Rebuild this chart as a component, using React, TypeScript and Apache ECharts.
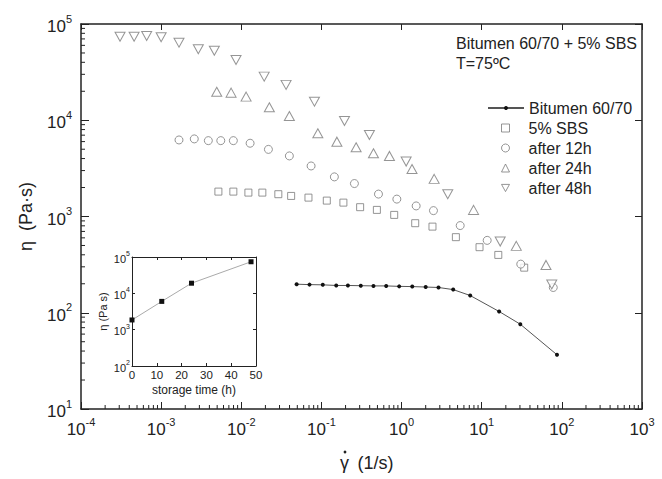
import React, { useEffect, useRef } from "react";
import * as echarts from "echarts";

// Shear rate (1/s) and viscosity (Pa·s) readings for each sample
const bitumenRate = [0.049, 0.071, 0.104, 0.153, 0.214, 0.31, 0.446, 0.643, 0.933, 1.36, 2.0, 2.89, 4.41, 7.18, 16.5, 30.3, 86.9];
const bitumenEta = [198, 196, 195, 192, 192, 191, 190, 190, 188, 187, 185, 183, 174, 151, 103, 76, 36.6];

const sbsRate = [5.18e-3, 7.96e-3, 0.01227, 0.01832, 0.029, 0.0419, 0.0689, 0.1167, 0.188, 0.304, 0.492, 0.809, 1.48, 2.43, 4.76, 9.39, 16.1, 33.9];
const sbsEta = [1814, 1814, 1771, 1771, 1705, 1636, 1571, 1463, 1394, 1250, 1171, 1039, 852, 785, 610, 480, 399, 294];

const h12Rate = [1.67e-3, 2.59e-3, 3.88e-3, 5.55e-3, 7.96e-3, 0.01288, 0.0218, 0.0398, 0.0743, 0.145, 0.258, 0.515, 0.873, 1.52, 2.5, 5.39, 11.7, 30.7, 78.1];
const h12Eta = [6240, 6400, 6140, 6140, 6140, 5770, 4980, 4260, 3350, 2580, 2200, 1709, 1516, 1288, 1151, 805, 565, 320, 183];

const h24Rate = [4.94e-3, 7.46e-3, 0.01148, 0.0224, 0.0398, 0.0902, 0.156, 0.271, 0.446, 0.706, 1.35, 2.55, 7.91, 27.0, 63.4];
const h24Eta = [19800, 19350, 17600, 13650, 11080, 7330, 5990, 5240, 4540, 4260, 3120, 2460, 1171, 495, 314];

const h48Rate = [3.07e-4, 4.6e-4, 6.6e-4, 1.0e-3, 1.67e-3, 2.91e-3, 4.61e-3, 8.6e-3, 0.0193, 0.0362, 0.0818, 0.194, 0.397, 1.14, 3.77, 17.0, 74.8];
const h48Eta = [73800, 73800, 75000, 72800, 64000, 54600, 52800, 42300, 28400, 23300, 15600, 9840, 7030, 3720, 1705, 549, 197];

// Inset: zero-shear plateau viscosity against storage time
const storageHours = [0, 12, 24, 48];
const storageEta = [1850, 6000, 19000, 74000];

const seriesNames = ["Bitumen 60/70", "5% SBS", "after 12h", "after 24h", "after 48h"];

const FONT = '"Liberation Sans", Arial, Helvetica, sans-serif';
const INK = "#222";
const GRAY = "#7a7a7a";
const DOWN_TRIANGLE = "path://M0,0 L10,0 L5,9 Z";

const zip = (xs: number[], ys: number[]) => xs.map((x, i) => [x, ys[i]]);

const powLabel = (v: number) => {
  const e = Math.round(Math.log10(v));
  return `{b|10}{s|${e}}`;
};

const mainRich = {
  b: { fontSize: 17, fontFamily: FONT, color: INK, lineHeight: 22, verticalAlign: "bottom" },
  s: { fontSize: 11, fontFamily: FONT, color: INK, lineHeight: 22, verticalAlign: "top" },
};
const insetRich = {
  b: { fontSize: 11, fontFamily: FONT, color: INK, lineHeight: 14, verticalAlign: "bottom" },
  s: { fontSize: 7, fontFamily: FONT, color: INK, lineHeight: 14, verticalAlign: "top" },
};

const frameLine = (w: number) => ({ show: true, onZero: false, lineStyle: { color: INK, width: w } });
const legendText = { fontSize: 16, color: INK, fontFamily: FONT, lineHeight: 16 };

export default function App() {
  const ref = useRef<HTMLDivElement>(null);

  useEffect(() => {
    document.body.style.margin = "0";
    const chart = echarts.init(ref.current!, undefined, { renderer: "svg" });

    const hollow = { color: "#fff", borderColor: GRAY, borderWidth: 1 };

    chart.setOption({
      animation: false,
      backgroundColor: "#fff",
      textStyle: { fontFamily: FONT },
      grid: [
        { left: 81, top: 24, right: 20, bottom: 70 },
        { left: 132, top: 257, width: 124, height: 109, show: true, backgroundColor: "#fff", borderWidth: 0 },
      ],
      legend: [
        {
          orient: "vertical", left: 482, top: 95,
          itemWidth: 36, itemHeight: 5, itemGap: 4, selectedMode: false,
          data: [seriesNames[0]],
          textStyle: legendText,
        },
        {
          orient: "vertical", left: 496, top: 115,
          itemWidth: 8, itemHeight: 8, itemGap: 4, selectedMode: false,
          itemStyle: { borderWidth: 1 },
          data: [
            seriesNames[1],
            seriesNames[2],
            seriesNames[3],
            { name: seriesNames[4], icon: DOWN_TRIANGLE },
          ],
          textStyle: { ...legendText, padding: [0, 0, 0, 14] },
        },
      ],
      xAxis: [
        {
          type: "log", logBase: 10, min: 1e-4, max: 1e3, gridIndex: 0, position: "bottom",
          axisLine: frameLine(1.5),
          axisTick: { show: true, inside: true, length: 7, lineStyle: { color: INK, width: 1 } },
          axisLabel: { margin: 7, formatter: powLabel, rich: mainRich },
          splitLine: { show: false },
        },
        {
          type: "log", logBase: 10, min: 1e-4, max: 1e3, gridIndex: 0, position: "top",
          axisLine: frameLine(1.5),
          axisTick: { show: true, inside: true, length: 6, lineStyle: { color: INK, width: 1 } },
          axisLabel: { show: false }, splitLine: { show: false },
        },
        {
          type: "value", min: 0, max: 50, interval: 10, gridIndex: 1, position: "bottom",
          axisLine: frameLine(1),
          axisTick: { show: true, inside: true, length: 3, lineStyle: { color: INK } },
          axisLabel: { margin: 3, fontSize: 11.5, color: INK, fontFamily: FONT },
          splitLine: { show: false },
          name: "storage time (h)", nameLocation: "middle", nameGap: 18,
          nameTextStyle: { fontSize: 12, color: INK, fontFamily: FONT },
        },
        {
          type: "value", min: 0, max: 50, interval: 10, gridIndex: 1, position: "top",
          axisLine: frameLine(1),
          axisTick: { show: true, inside: true, length: 3, lineStyle: { color: INK } },
          axisLabel: { show: false }, splitLine: { show: false },
        },
      ],
      yAxis: [
        {
          type: "log", logBase: 10, min: 10, max: 1e5, gridIndex: 0, position: "left",
          axisLine: frameLine(1.5),
          axisTick: { show: true, inside: true, length: 8, lineStyle: { color: INK, width: 1 } },
          axisLabel: { margin: 9, formatter: powLabel, rich: mainRich },
          splitLine: { show: false },
          name: "η  (Pa·s)", nameLocation: "middle", nameGap: 46,
          nameTextStyle: { fontSize: 18, color: INK, fontFamily: FONT },
        },
        {
          type: "log", logBase: 10, min: 10, max: 1e5, gridIndex: 0, position: "right",
          axisLine: frameLine(1.5),
          axisTick: { show: true, inside: true, length: 7, lineStyle: { color: INK, width: 1 } },
          axisLabel: { show: false }, splitLine: { show: false },
        },
        {
          type: "log", logBase: 10, min: 100, max: 1e5, gridIndex: 1, position: "left",
          axisLine: frameLine(1),
          axisTick: { show: true, inside: true, length: 3, lineStyle: { color: INK } },
          axisLabel: { margin: 2, formatter: powLabel, rich: insetRich },
          splitLine: { show: false },
          name: "η (Pa s)", nameLocation: "middle", nameGap: 24,
          nameTextStyle: { fontSize: 11, color: INK, fontFamily: FONT },
        },
        {
          type: "log", logBase: 10, min: 100, max: 1e5, gridIndex: 1, position: "right",
          axisLine: frameLine(1),
          axisTick: { show: true, inside: true, length: 3, lineStyle: { color: INK } },
          axisLabel: { show: false }, splitLine: { show: false },
        },
      ],
      series: [
        {
          name: seriesNames[0], type: "line", xAxisIndex: 0, yAxisIndex: 0,
          data: zip(bitumenRate, bitumenEta),
          symbol: "circle", symbolSize: 4,
          itemStyle: { color: "#111" },
          lineStyle: { color: "#555", width: 1 },
          z: 3,
        },
        {
          name: seriesNames[1], type: "scatter", xAxisIndex: 0, yAxisIndex: 0,
          data: zip(sbsRate, sbsEta), symbol: "rect", symbolSize: 7, itemStyle: hollow,
        },
        {
          name: seriesNames[2], type: "scatter", xAxisIndex: 0, yAxisIndex: 0,
          data: zip(h12Rate, h12Eta), symbol: "circle", symbolSize: 8, itemStyle: hollow,
        },
        {
          name: seriesNames[3], type: "scatter", xAxisIndex: 0, yAxisIndex: 0,
          data: zip(h24Rate, h24Eta), symbol: "triangle", symbolSize: [10, 9], itemStyle: hollow,
        },
        {
          name: seriesNames[4], type: "scatter", xAxisIndex: 0, yAxisIndex: 0,
          data: zip(h48Rate, h48Eta), symbol: "triangle", symbolRotate: 180, symbolSize: [10, 9], itemStyle: hollow,
        },
        {
          name: "storage", type: "line", xAxisIndex: 2, yAxisIndex: 2,
          data: zip(storageHours, storageEta),
          symbol: "rect", symbolSize: 5,
          itemStyle: { color: "#111" },
          lineStyle: { color: "#aaa", width: 1 },
        },
      ],
    });

    // Logarithmic minor ticks (2..9 within each decade) on the bottom and left axes
    const ticks: any[] = [];
    const yBottom = chart.convertToPixel({ yAxisIndex: 0 }, 10) as number;
    const xLeft = chart.convertToPixel({ xAxisIndex: 0 }, 1e-4) as number;
    const xRight = chart.convertToPixel({ xAxisIndex: 0 }, 1e3) as number;
    for (let k = -4; k <= 2; k++) {
      for (let m = 2; m <= 9; m++) {
        const x = chart.convertToPixel({ xAxisIndex: 0 }, m * Math.pow(10, k)) as number;
        ticks.push({
          type: "line", silent: true,
          shape: { x1: x, y1: yBottom, x2: x, y2: yBottom - 4 },
          style: { stroke: INK, lineWidth: 1 },
        });
      }
    }
    for (let k = 1; k <= 4; k++) {
      for (let m = 2; m <= 9; m++) {
        const y = chart.convertToPixel({ yAxisIndex: 0 }, m * Math.pow(10, k)) as number;
        ticks.push({
          type: "line", silent: true,
          shape: { x1: xLeft, y1: y, x2: xLeft + 4, y2: y },
          style: { stroke: INK, lineWidth: 1 },
        });
      }
    }

    // Shear-rate axis title: gamma with an overdot, then the unit
    const titleX = (xLeft + xRight) / 2;
    const titleY = 463;
    const shearTitle = {
      type: "group",
      children: [
        {
          type: "text", x: titleX - 17, y: titleY,
          style: { text: "γ", fontSize: 18, fontFamily: FONT, fill: INK, align: "center", verticalAlign: "middle" },
        },
        { type: "circle", shape: { cx: titleX - 16.5, cy: titleY - 11, r: 1.4 }, style: { fill: INK } },
        {
          type: "text", x: titleX - 4, y: titleY,
          style: { text: "(1/s)", fontSize: 18, fontFamily: FONT, fill: INK, align: "left", verticalAlign: "middle" },
        },
      ],
    };

    chart.setOption({
      graphic: {
        elements: [
          ...ticks,
          shearTitle,
          {
            type: "text", x: 456, y: 43,
            style: { text: "Bitumen 60/70 + 5% SBS", fontSize: 16, fontFamily: FONT, fill: INK, align: "left", verticalAlign: "middle" },
          },
          {
            type: "text", x: 456, y: 63,
            style: { text: "T=75ºC", fontSize: 16, fontFamily: FONT, fill: INK, align: "left", verticalAlign: "middle" },
          },
        ],
      },
    });

    return () => chart.dispose();
  }, []);

  return <div ref={ref} style={{ width: 662, height: 479 }} />;
}
